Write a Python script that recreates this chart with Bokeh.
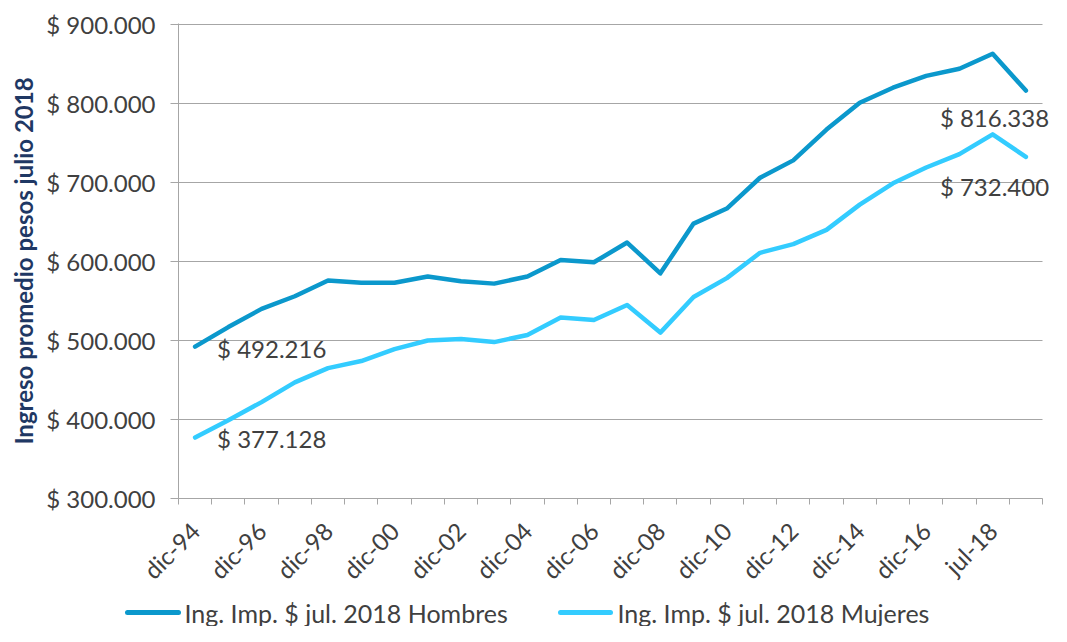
from bokeh.plotting import figure
from bokeh.models import (FixedTicker, Label, Range1d, CustomJSTickFormatter)
from bokeh.core.properties import value
from bokeh.layouts import column
from bokeh.embed import file_html
from bokeh.resources import INLINE
import math

# ---- data ----
categories = ["dic-94", "dic-95", "dic-96", "dic-97", "dic-98", "dic-99", "dic-00", "dic-01",
              "dic-02", "dic-03", "dic-04", "dic-05", "dic-06", "dic-07", "dic-08", "dic-09",
              "dic-10", "dic-11", "dic-12", "dic-13", "dic-14", "dic-15", "dic-16", "dic-17",
              "jul-18", "dic-18"]
hombres = [492216, 517000, 540000, 556000, 576000, 573000, 573000, 581000, 575000, 572000,
           581000, 602000, 599000, 624000, 585000, 648000, 667000, 706000, 728000, 767000,
           801000, 820000, 835000, 844000, 863000, 816338]
mujeres = [377128, 399000, 422000, 447000, 465000, 474000, 489000, 500000, 502000, 498000,
           507000, 529000, 526000, 545000, 510000, 555000, 579000, 611000, 622000, 640000,
           672000, 699000, 719000, 736000, 761000, 732400]
y_ticks = [300000, 400000, 500000, 600000, 700000, 800000, 900000]
series_names = ["Ing. Imp. $ jul. 2018 Hombres", "Ing. Imp. $ jul. 2018 Mujeres"]
y_title = "Ingreso promedio pesos julio 2018"

C_H = "#0B98CC"
C_M = "#33CCFF"
GRID = "#A6A6A6"
TXT = "#404040"
FONT = "Lato"

W = 1051
H_MAIN = 598
H_LEG = 28
LEFT = 178
TOP = 23
BOTTOM_FRAME = 498

n = len(categories)
xs = list(range(n))
frame_w = W - LEFT
x_end = -0.5 + n * frame_w / 864.0
y_lo, y_hi = y_ticks[0], y_ticks[-1]
y_end = y_hi + (y_hi - y_lo) / 474.0

p = figure(width=W, height=H_MAIN, output_backend="svg", toolbar_location=None,
           x_range=Range1d(-0.5, x_end), y_range=Range1d(y_lo, y_end),
           min_border_left=LEFT, min_border_right=0, min_border_top=TOP,
           min_border_bottom=H_MAIN - BOTTOM_FRAME)
p.outline_line_color = None
p.frame_align = False

# x axis
label_idx = list(range(0, n, 2))
p.xaxis.ticker = FixedTicker(ticks=label_idx, minor_ticks=[i - 0.5 for i in range(n + 1)])
p.xaxis.bounds = (-0.5, n - 0.5)
p.xaxis.major_label_overrides = {i: categories[i] for i in label_idx}
p.xaxis.major_label_orientation = math.pi / 4
p.xaxis.major_tick_out = 0
p.xaxis.major_tick_in = 0
p.xaxis.minor_tick_out = 6
p.xaxis.minor_tick_in = 0
p.xaxis.minor_tick_line_color = GRID
p.xaxis.axis_line_color = GRID
p.xaxis.major_label_text_font = FONT
p.xaxis.major_label_text_font_size = "24px"
p.xaxis.major_label_text_color = TXT
p.xaxis.major_label_standoff = 22
p.xgrid.grid_line_color = None

# y axis
p.yaxis.ticker = FixedTicker(ticks=y_ticks, minor_ticks=[])
p.yaxis.formatter = CustomJSTickFormatter(code="""
    return '$ ' + Math.round(tick).toString().replace(/\\B(?=(\\d{3})+(?!\\d))/g, '.');
""")
p.yaxis.major_tick_out = 8
p.yaxis.major_tick_in = 0
p.yaxis.major_tick_line_color = GRID
p.yaxis.axis_line_color = GRID
p.yaxis.major_label_text_font = FONT
p.yaxis.major_label_text_font_size = "24px"
p.yaxis.major_label_text_color = TXT
p.yaxis.major_label_standoff = 15
p.yaxis.axis_label = y_title
p.yaxis.axis_label_text_font = FONT
p.yaxis.axis_label_text_font_style = "bold"
p.yaxis.axis_label_text_font_size = "24px"
p.yaxis.axis_label_text_color = "#1F3864"
p.yaxis.axis_label_standoff = 5
p.ygrid.grid_line_color = None

# horizontal gridlines limited to the category span
p.segment(x0=[-0.5] * len(y_ticks), y0=y_ticks, x1=[n - 0.5] * len(y_ticks), y1=y_ticks,
          line_color=GRID, line_width=1)

p.line(xs, hombres, line_color=C_H, line_width=4.5, line_join="round", line_cap="round")
p.line(xs, mujeres, line_color=C_M, line_width=4.5, line_join="round", line_cap="round")

def fmt(v):
    return "$ " + f"{v:,}".replace(",", ".")

lab_style = dict(text_font=FONT, text_font_size="24px", text_color=TXT,
                 text_baseline="middle", text_align="left")
last = n - 1
p.add_layout(Label(x=0, y=hombres[0], text=fmt(hombres[0]), x_offset=22, y_offset=-2, **lab_style))
p.add_layout(Label(x=0, y=mujeres[0], text=fmt(mujeres[0]), x_offset=22, y_offset=-1, **lab_style))
p.add_layout(Label(x=last, y=hombres[last], text=fmt(hombres[last]), x_offset=-86, y_offset=-27, **lab_style))
p.add_layout(Label(x=last, y=mujeres[last], text=fmt(mujeres[last]), x_offset=-86, y_offset=-30, **lab_style))

# legend strip (screen-like coordinates)
lf = figure(width=W, height=H_LEG, output_backend="svg", toolbar_location=None,
            x_range=Range1d(0, W), y_range=Range1d(0, H_LEG), min_border=0)
lf.frame_align = False
lf.xaxis.visible = False
lf.yaxis.visible = False
lf.grid.grid_line_color = None
lf.outline_line_color = None
mid = H_LEG / 2
lf.segment(x0=[127, 560], y0=[mid, mid], x1=[178, 610], y1=[mid, mid], line_color=[C_H, C_M],
           line_width=5, line_cap="round")
lf.text(x=[184, 617], y=[mid, mid], text=series_names, text_font=value(FONT),
        text_font_size="25px", text_color=TXT, text_baseline="middle", text_align="left")

layout = column(p, lf, spacing=0)
open("out.html", "w").write(file_html(layout, INLINE))
